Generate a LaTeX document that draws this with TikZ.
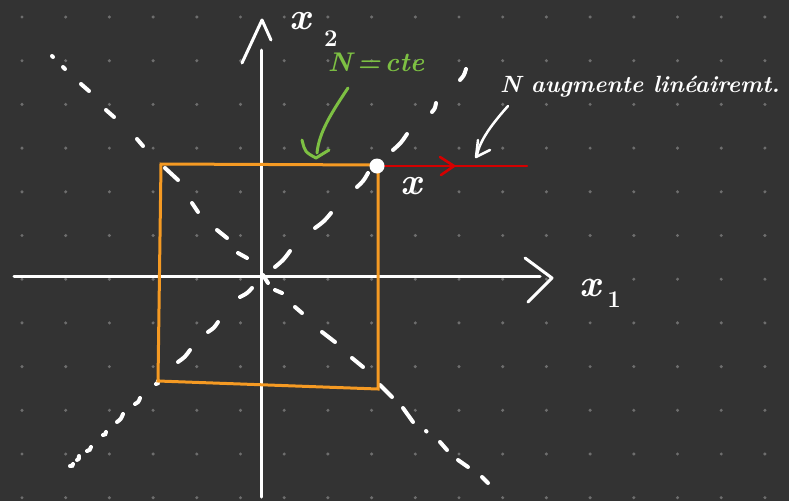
\documentclass[tikz,border=0pt]{standalone}
\usepackage{fontspec}
\usetikzlibrary{calc}
\definecolor{bgc}{HTML}{333333}
\definecolor{dotc}{HTML}{6E6E6E}
\definecolor{orangec}{HTML}{F59A23}
\definecolor{redc}{HTML}{D40000}
\definecolor{greenc}{HTML}{7DC043}
\begin{document}
\begin{tikzpicture}[x=1pt,y=-1pt,
  chalk/.style={draw=white,line width=3pt,line cap=round,line join=round},
  dsh/.style={draw=white,line width=4pt,line cap=round},
  sq/.style={draw=orangec,line width=3pt,line join=miter},
  redl/.style={draw=redc,line width=2.6pt,line cap=round,line join=round},
  greenl/.style={draw=greenc,line width=3pt,line cap=round,line join=round},
  hand/.style={text=white,inner sep=0pt,font=\bfseries\itshape\fontsize{23.5}{23.5}\selectfont},
  mathlbl/.style={text=white,inner sep=0pt,font=\bfseries\itshape\fontsize{38}{38}\selectfont},
  sublbl/.style={text=white,inner sep=0pt,font=\bfseries\fontsize{24}{24}\selectfont}]
\fill[bgc] (0,0) rectangle (789,501);
\useasboundingbox (0,0) rectangle (789,501);
% dot grid
\foreach \i in {0,...,17}
  \foreach \j in {0,...,11}
    \fill[dotc] (22+43.7*\i,17+43.7*\j) circle (1.7);
% dashed diagonals (hand drawn strokes)
\foreach \a/\b/\c/\d in {52/56/53/57, 63/67/65/69, 81/84/89/91, 106/110/114/117, 137/139/143/146,
  165/168/178/180, 192/203/198/212, 217/230/227/238, 238/253/247/258, 263/275/268/283,
  275/290/282/293, 295/307/302/313, 322/332/335/342, 352/358/363/367, 380/385/392/397,
  403/408/413/422, 426/431/426.5/431.5, 440/442/447/450, 458/460/468/467, 482/477/488/483}
  \draw[dsh] (\a,\b) -- (\c,\d);
\foreach \a/\b/\c/\d in {70/466/73/464, 77/460/79/456, 87/451/91/447, 103/435/106/432,
  117/422/123/414, 135/404/140/398, 156/384/158/381, 178/362/190/350, 208/332/218/322,
  240/297/252/288, 275/267/290/251, 315/228/331/213, 357/187/368/173, 393/150/407/134,
  432/112/436/103, 460/80/466/69}
  \draw[dsh] (\a,\b) .. controls ($(\a,\b)!0.5!(\c,\d)+(1,1)$) .. (\c,\d);
% axes
\coordinate (xw) at (14,276);
\coordinate (xe) at (540,276);
\coordinate (yn) at (261,50);
\coordinate (ys) at (261,497);
\coordinate (xh1) at (525,258);
\coordinate (xh2) at (552,278);
\coordinate (xh3) at (528,302);
\coordinate (yh1) at (242,63);
\coordinate (yh2) at (262,20);
\coordinate (yh3) at (271,40);
\draw[chalk] (xw) -- (xe);
\draw[chalk] (ys) -- (yn);
\draw[chalk] (xh1) -- (xh2) -- (xh3);
\draw[chalk] (yh1) -- (yh2) -- (yh3);
% axis labels
\node[mathlbl] (x2x) at (300,21) {x};
\node[sublbl] (x2n) at (331,39) {2};
\node[mathlbl] (x1x) at (590,288) {x};
\node[sublbl] (x1n) at (614,300) {1};
% orange square
\coordinate (A) at (161,164);
\coordinate (B) at (378,165);
\coordinate (C) at (378,389);
\coordinate (D) at (158,381);
\draw[sq] (A) -- (B) -- (C) -- (D) -- cycle;
% red ray
\coordinate (R) at (527,166);
\coordinate (P) at (377,166);
\draw[redl] (P) -- (R);
\coordinate (rh1) at (440,157);
\coordinate (rh2) at (454,166);
\coordinate (rh3) at (441,175);
\draw[redl] (rh1) -- (rh2) -- (rh3);
\fill[white] (P) circle (7.5);
\node[mathlbl] (xpt) at (411,186) {x};
% green label and arrow
\node[text=greenc,inner sep=0pt,font=\bfseries\itshape\fontsize{27}{27}\selectfont] (cte) at (376,62) {N\,=\,cte};
\coordinate (g1) at (348,88);
\coordinate (g2) at (317,153);
\coordinate (gh1) at (302,140);
\coordinate (gh2) at (316,158);
\coordinate (gh3) at (329,150);
\draw[greenl] (g1) .. controls (332,112) and (319,132) .. (g2);
\draw[greenl] (gh1) .. controls (305,152) .. (gh2) -- (gh3);
% white label and arrow
\node[hand,anchor=base west] (aug) at (500,92) {N augmente linéairemt.};
\coordinate (w1) at (508,106);
\coordinate (w2) at (477,155);
\coordinate (wh1) at (478,140);
\coordinate (wh2) at (476,157);
\coordinate (wh3) at (490,150);
\draw[chalk,line width=2.5pt] (w1) .. controls (492,124) and (480,140) .. (w2);
\draw[chalk,line width=2.5pt] (wh1) -- (wh2) -- (wh3);
\end{tikzpicture}
\end{document}
